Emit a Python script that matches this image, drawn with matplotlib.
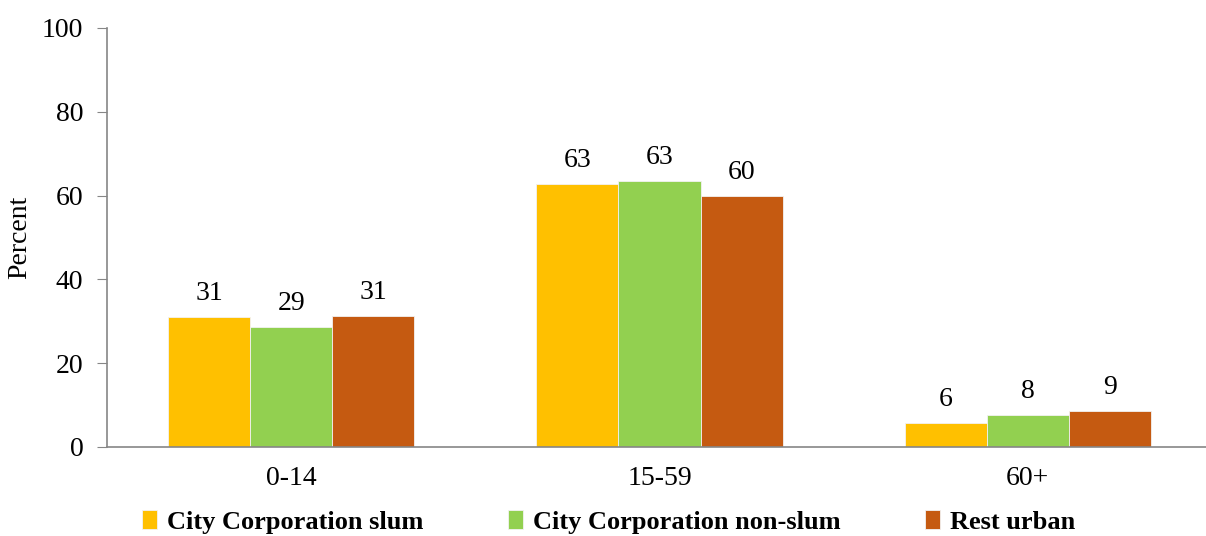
import numpy as np
import matplotlib
matplotlib.use("Agg")
import matplotlib.pyplot as plt

age_groups = ["0-14", "15-59", "60+"]
series_names = ["City Corporation slum", "City Corporation non-slum", "Rest urban"]
slum = [31.0, 62.8, 5.7]
non_slum = [28.6, 63.4, 7.6]
rest_urban = [31.3, 59.9, 8.6]
colors = ["#FFC000", "#92D050", "#C55A11"]

plt.rcParams["font.family"] = ["Liberation Serif", "DejaVu Serif"]

fig = plt.figure(figsize=(12.06, 5.36), dpi=100)
ax = fig.add_axes([107 / 1206, 89 / 536, 1105 / 1206, 419 / 536])

x = np.arange(len(age_groups))
width = 0.223
for i, (vals, name, col) in enumerate(zip([slum, non_slum, rest_urban], series_names, colors)):
    bars = ax.bar(x + (i - 1) * width, vals, width, color=col, label=name,
                  edgecolor="#f2f2f2", linewidth=0.6)
    ax.bar_label(bars, fmt="%.0f", padding=8, fontsize=20)

ax.set_xlim(-0.5, 2.5)
ax.set_ylim(0, 100)
ax.set_yticks(range(0, 101, 20))
ax.set_xticks(x)
ax.set_xticklabels(age_groups)
ax.set_ylabel("Percent", fontsize=20)
ax.yaxis.set_label_coords(-0.068, 0.5)
ax.tick_params(axis="y", labelsize=20, length=7, color="#868686", pad=10)
ax.tick_params(axis="x", labelsize=20, length=0, pad=14)

for side in ["top", "right"]:
    ax.spines[side].set_visible(False)
for side in ["left", "bottom"]:
    ax.spines[side].set_color("#868686")
    ax.spines[side].set_linewidth(1.2)

fig.legend(loc="center", bbox_to_anchor=(0.505, 0.026), ncol=3, frameon=False,
           prop={"weight": "bold", "size": 19}, handlelength=0.55, handleheight=0.75,
           handletextpad=0.4, columnspacing=3.2, borderpad=0)

fig.savefig("out.png", dpi=100)
